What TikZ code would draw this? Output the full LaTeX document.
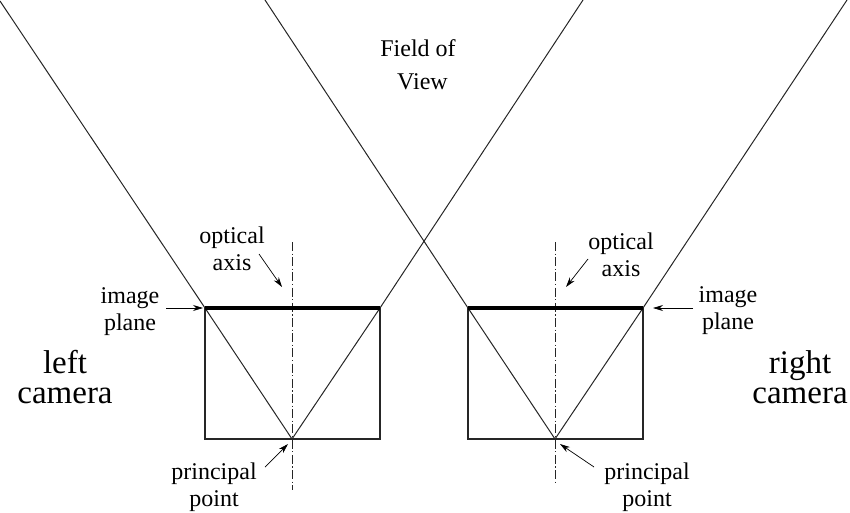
\documentclass[tikz,border=0pt]{standalone}
\usepackage{fontspec}
\setmainfont{Liberation Serif}
\usetikzlibrary{arrows.meta,positioning}

\begin{document}
\begin{tikzpicture}[x=1pt,y=-1pt,line cap=butt,
  small label/.style={align=center,inner sep=0pt,font=\fontsize{24}{27}\selectfont},
  big label/.style={align=center,inner sep=0pt,font=\fontsize{33}{30}\selectfont},
  view line/.style={draw=black!85,line width=1pt},
  box line/.style={draw=black!85,line width=1.5pt},
  plane line/.style={draw=black,line width=4.5pt},
  axis line/.style={draw=black!85,line width=0.7pt,dash pattern=on 9pt off 2.5pt on 1.2pt off 2.5pt},
  pointer/.style={draw=black,line width=0.7pt,-{Stealth[length=10pt,width=6pt]}}]
\useasboundingbox (0,0) rectangle (850,513);
% left camera
\coordinate (lTL) at (205,308);
\coordinate (lTR) at (380,308);
\coordinate (lBL) at (205,439);
\coordinate (lBR) at (380,439);
\coordinate (lP) at (292,439);
\coordinate (lA1) at (292,242);
\coordinate (lA2) at (292,490);
\coordinate (lV1) at (0,1);
\coordinate (lV2) at (583,0);
% right camera
\coordinate (rTL) at (468,308);
\coordinate (rTR) at (643,308);
\coordinate (rBL) at (468,439);
\coordinate (rBR) at (643,439);
\coordinate (rP) at (555,439);
\coordinate (rA1) at (555,242);
\coordinate (rA2) at (555,482);
\coordinate (rV1) at (265,0);
\coordinate (rV2) at (847,0);
% labels
\node[small label] (fov) at (418,65) {Field of\\[6pt]\hspace*{9pt}View};
\node[big label] (lcam) at (65,377) {left\\camera};
\node[big label] (rcam) at (800,377) {right\\camera};
\node[small label] (lopt) at (232,249) {optical\\axis};
\node[small label] (ropt) at (621,255) {optical\\axis};
\node[small label] (limg) at (130,312) {image\\plane};
\node[small label] (rimg) at (728,311) {image\\plane};
\node[small label] (lpri) at (214,487) {principal\\point};
\node[small label] (rpri) at (647,487) {principal\\point};
% arrow ends
\coordinate (lOa) at (259,254);
\coordinate (lOb) at (282,287);
\coordinate (rOa) at (588,259);
\coordinate (rOb) at (566,287);
\coordinate (lIa) at (166,308);
\coordinate (lIb) at (203,308);
\coordinate (rIa) at (693,308);
\coordinate (rIb) at (653,308);
\coordinate (lPa) at (265,467);
\coordinate (lPb) at (288,444);
\coordinate (rPa) at (594,467);
\coordinate (rPb) at (560,444);
% lines
\draw[box line] (lTL) -- (lBL) -- (lBR) -- (lTR);
\draw[box line] (rTL) -- (rBL) -- (rBR) -- (rTR);
\draw[view line] (lV1) -- (lTL) -- (lP) -- (lTR) -- (lV2);
\draw[view line] (rV1) -- (rTL) -- (rP) -- (rTR) -- (rV2);
\draw[axis line] (lA1) -- (lA2);
\draw[axis line] (rA1) -- (rA2);
\draw[plane line] (lTL) -- (lTR);
\draw[plane line] (rTL) -- (rTR);
\draw[pointer] (lOa) -- (lOb);
\draw[pointer] (rOa) -- (rOb);
\draw[pointer] (lIa) -- (lIb);
\draw[pointer] (rIa) -- (rIb);
\draw[pointer] (lPa) -- (lPb);
\draw[pointer] (rPa) -- (rPb);
\end{tikzpicture}
\end{document}
